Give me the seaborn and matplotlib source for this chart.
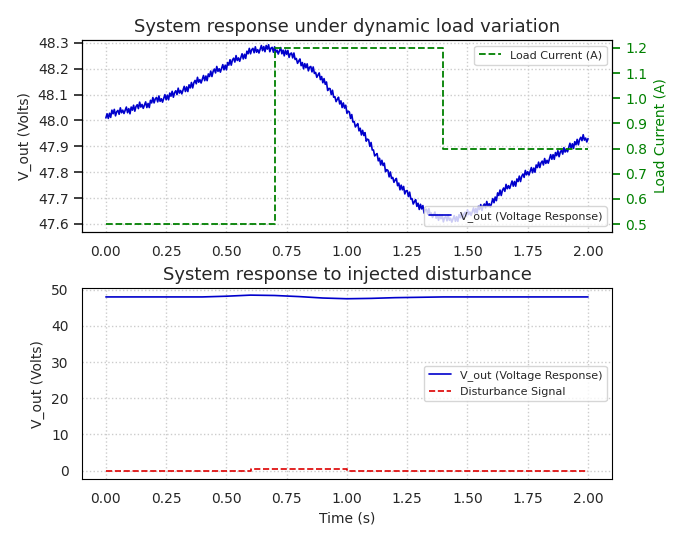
import numpy as np
import matplotlib.pyplot as plt
import seaborn as sns

sns.set_theme(style="whitegrid", rc={'axes.labelsize': 10, 'xtick.labelsize': 10,
                                     'ytick.labelsize': 10, 'axes.titlesize': 13})
plt.rcParams['font.family'] = ['DejaVu Sans']

# top panel: voltage every 0.025 s
t_top = np.round(np.arange(0, 2.0001, 0.025), 3)
v_top = [48.01, 48.03, 48.03, 48.04, 48.04, 48.05, 48.06, 48.06, 48.08, 48.08,
         48.09, 48.10, 48.11, 48.12, 48.13, 48.15, 48.16, 48.17, 48.19, 48.20,
         48.21, 48.23, 48.24, 48.25, 48.27, 48.27, 48.28, 48.28, 48.27, 48.27,
         48.26, 48.25, 48.23, 48.21, 48.20, 48.18, 48.16, 48.12, 48.09, 48.07,
         48.04, 48.00, 47.97, 47.94, 47.90, 47.86, 47.83, 47.79, 47.77, 47.74,
         47.72, 47.69, 47.67, 47.65, 47.64, 47.63, 47.62, 47.62, 47.62, 47.63,
         47.64, 47.65, 47.66, 47.67, 47.68, 47.71, 47.73, 47.75, 47.76, 47.78,
         47.80, 47.81, 47.83, 47.84, 47.86, 47.87, 47.88, 47.90, 47.91, 47.93,
         47.93]
# small ripple seen on the trace
ripple = [0.00, 0.012, -0.010, 0.006, -0.014, 0.010, -0.004, 0.013, -0.012, 0.004,
          0.009, -0.008, 0.015, -0.006, 0.002, -0.013]

t_load = [0.0, 0.7, 0.7, 1.4, 1.4, 2.0]
i_load = [0.5, 0.5, 1.2, 1.2, 0.8, 0.8]

# bottom panel
t_bot = [0.0, 0.2, 0.4, 0.5, 0.6, 0.7, 0.8, 0.9, 1.0, 1.1, 1.2, 1.4, 1.6, 2.0]
v_bot = [48.0, 48.0, 48.0, 48.2, 48.5, 48.4, 48.1, 47.7, 47.5, 47.6, 47.8, 48.0, 48.0, 48.0]
t_dist = [0.0, 0.6, 0.6, 1.0, 1.0, 2.0]
d_dist = [0.0, 0.0, 0.5, 0.5, 0.0, 0.0]

# interleave ripple between read points
t_fine, v_fine = [], []
for k in range(len(t_top) - 1):
    for j in range(5):
        t_fine.append(t_top[k] + j * 0.005)
        v_fine.append(v_top[k] + (v_top[k + 1] - v_top[k]) * j / 5 + ripple[(k * 5 + j) % len(ripple)])
t_fine.append(t_top[-1]); v_fine.append(v_top[-1])

fig, (ax1, ax3) = plt.subplots(2, 1, figsize=(6.85, 5.44), dpi=100)

sns.lineplot(x=t_fine, y=v_fine, ax=ax1, color='#0000cc', lw=1.2, label='V_out (Voltage Response)')
ax1.set_ylabel('V_out (Volts)')
ax1.set_ylim(47.57, 48.31)
ax1.set_yticks(np.arange(47.6, 48.31, 0.1))
ax1.set_title('System response under dynamic load variation')
ax1.legend(loc='lower right', fontsize=8)
ax1.set_xlim(-0.1, 2.1)

ax2 = ax1.twinx()
ax2.plot(t_load, i_load, color='green', ls='--', lw=1.3, label='Load Current (A)')
ax2.set_ylim(0.47, 1.23)
ax2.set_yticks(np.arange(0.5, 1.21, 0.1))
ax2.set_ylabel('Load Current (A)', color='green')
ax2.tick_params(axis='y', colors='green')
ax2.grid(False)
ax2.legend(loc='upper right', fontsize=8)

sns.lineplot(x=t_bot, y=v_bot, ax=ax3, color='#0000cc', lw=1.2, label='V_out (Voltage Response)')
ax3.plot(t_dist, d_dist, color='#dd0000', ls='--', lw=1.2, label='Disturbance Signal')
ax3.set_xlim(-0.1, 2.1)
ax3.set_ylim(-2.4, 50.5)
ax3.set_xlabel('Time (s)')
ax3.set_ylabel('V_out (Volts)')
ax3.set_title('System response to injected disturbance')
ax3.legend(loc='center right', fontsize=8)

for ax in (ax1, ax3):
    ax.grid(True, ls=':', color='#cccccc')
    ax.set_facecolor('white')
for ax in (ax1, ax2, ax3):
    for s in ax.spines.values():
        s.set_color('black'); s.set_linewidth(0.8)

fig.tight_layout(h_pad=0.4)
fig.savefig('out.png')
